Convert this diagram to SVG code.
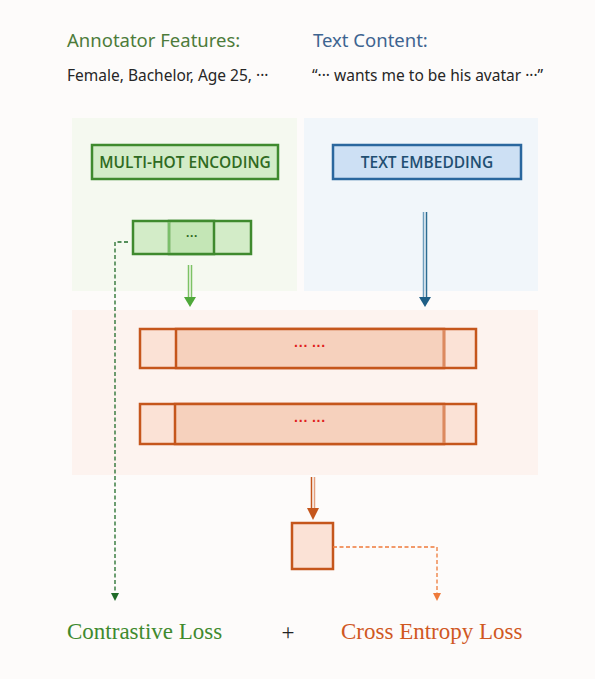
<svg xmlns="http://www.w3.org/2000/svg" width="595" height="679" viewBox="0 0 595 679">
<style>
.hdr{font-family:"Noto Sans","Liberation Sans",sans-serif;font-size:18.5px}
.sub{font-family:"Noto Sans","Liberation Sans",sans-serif;font-size:15.5px;fill:#262626}
.lbl{font-family:"Open Sans","Liberation Sans",sans-serif;font-weight:600;font-size:15.5px}
.loss{font-family:"Liberation Serif",serif;font-size:23px}
.ocell{fill:#fbe2d6;stroke:#c5561c;stroke-width:2.5}
.omid{fill:#f6d1bd;stroke:#c5561c;stroke-width:2.5}
.dots{font-family:"Liberation Sans",sans-serif;font-size:14px;fill:#e0201c;font-weight:bold}
</style>
<rect x="0" y="0" width="595" height="679" fill="#fdfbfa"/>

<g id="headers">
<text class="hdr" x="67" y="47" fill="#4d7b3a">Annotator Features:</text>
<text class="hdr" x="313" y="47" fill="#3e6490">Text Content:</text>
<text class="sub" x="67" y="81">Female, Bachelor, Age 25, ···</text>
<text class="sub" x="312" y="81">“··· wants me to be his avatar ···”</text>
</g>

<g id="panels">
<rect x="72" y="118" width="225" height="173" fill="#f5f9f0"/>
<rect x="304" y="118" width="234" height="173" fill="#f1f6fa"/>
<rect x="72" y="310" width="466" height="165" fill="#fdf3ef"/>
</g>

<g id="multi-hot">
<rect x="92" y="145" width="186" height="34" fill="#d3ecc8" stroke="#3f8a2e" stroke-width="2.5"/>
<text class="lbl" x="185" y="168" text-anchor="middle" fill="#2f6a22">MULTI-HOT ENCODING</text>
</g>
<g id="text-embedding">
<rect x="333" y="145" width="188" height="34" fill="#cde0f4" stroke="#2a679e" stroke-width="2.5"/>
<text class="lbl" x="427" y="168" text-anchor="middle" fill="#1f4f72">TEXT EMBEDDING</text>
</g>

<g id="vector">
<rect x="133" y="221" width="118" height="33" fill="#d3ecc8" stroke="#3f8a2e" stroke-width="2.5"/>
<rect x="169" y="221" width="45" height="33" fill="#c4e6b6" stroke="#3f8a2e" stroke-width="2.5"/>
<line x1="169" y1="222" x2="169" y2="253" stroke="#7bbf6a" stroke-width="2"/>
<text x="192" y="240" text-anchor="middle" font-family="Liberation Sans,sans-serif" font-size="12" font-weight="bold" fill="#2f6a22">···</text>
</g>

<g id="row1">
<rect class="ocell" x="140" y="329" width="336" height="39"/>
<rect class="omid" x="176" y="329" width="268" height="39"/>
<line x1="444" y1="330" x2="444" y2="367" stroke="#dc8a60" stroke-width="2.5"/>
<text class="dots" x="310" y="351" text-anchor="middle">··· ···</text>
</g>
<g id="row2">
<rect class="ocell" x="140" y="404" width="336" height="40"/>
<rect class="omid" x="175" y="404" width="269" height="40"/>
<line x1="444" y1="405" x2="444" y2="443" stroke="#dc8a60" stroke-width="2.5"/>
<text class="dots" x="310" y="426" text-anchor="middle">··· ···</text>
</g>

<g id="output">
<rect x="292" y="523" width="41" height="46" fill="#fbe2d6" stroke="#c5561c" stroke-width="2.5"/>
</g>

<g id="connectors">
<!-- green double arrow -->
<line x1="188.5" y1="265" x2="188.5" y2="298" stroke="#7cc265" stroke-width="1.5"/>
<line x1="191.5" y1="265" x2="191.5" y2="298" stroke="#7cc265" stroke-width="1.5"/>
<path d="M184,297 L196,297 L190,307 z" fill="#4fa83a"/>
<!-- blue arrow -->
<line x1="423.5" y1="212" x2="423.5" y2="298" stroke="#6f9fbe" stroke-width="1.5"/>
<line x1="426.5" y1="212" x2="426.5" y2="298" stroke="#2c6c92" stroke-width="1.5"/>
<path d="M419,297 L431,297 L425,307 z" fill="#1f5f86"/>
<!-- orange arrow -->
<line x1="311.5" y1="477" x2="311.5" y2="509" stroke="#c5561c" stroke-width="1.5"/>
<line x1="314.5" y1="477" x2="314.5" y2="509" stroke="#e4a07e" stroke-width="1.5"/>
<path d="M307,508 L319,508 L313,520 z" fill="#c5561c"/>
<!-- dashed green -->
<polyline points="128,242 115,242 115,594" fill="none" stroke="#1f6b28" stroke-width="1.3" stroke-dasharray="4,2.5"/>
<path d="M111,593 L119,593 L115,601 z" fill="#1f6b28"/>
<!-- dashed orange -->
<polyline points="333,547 437,547 437,594" fill="none" stroke="#ee7a3a" stroke-width="1.3" stroke-dasharray="4,2.5"/>
<path d="M433,593 L441,593 L437,601 z" fill="#ee7a3a"/>
</g>

<g id="losses">
<text class="loss" x="67" y="639" fill="#3f8a2e">Contrastive Loss</text>
<text class="loss" x="288" y="640" text-anchor="middle" fill="#222">+</text>
<text class="loss" x="341" y="639" fill="#d0581f">Cross Entropy Loss</text>
</g>
</svg>
